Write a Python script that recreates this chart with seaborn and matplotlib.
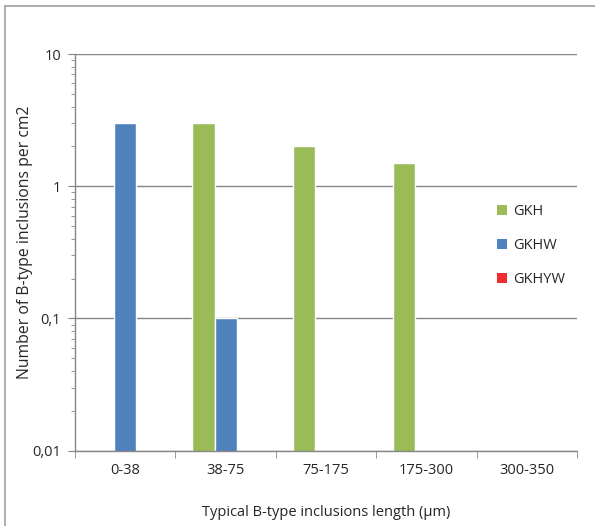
import matplotlib
matplotlib.use("Agg")
import matplotlib.pyplot as plt
import matplotlib.ticker as mticker
from matplotlib.patches import Patch
from matplotlib.lines import Line2D
import seaborn as sns
import pandas as pd

categories = ["0-38", "38-75", "75-175", "175-300", "300-350"]
series = ["GKH", "GKHW", "GKHYW"]
gkh = [0, 3, 2, 1.5, 0]
gkhw = [3, 0.1, 0, 0, 0]
gkhyw = [0, 0, 0, 0, 0]
colors = ["#9BBB59", "#4F81BD", "#EE2E2E"]
ytick_vals = [0.01, 0.1, 1, 10]
ytick_labels = ["0,01", "0,1", "1", "10"]

rows = []
for name, vals in zip(series, [gkh, gkhw, gkhyw]):
    for c, v in zip(categories, vals):
        rows.append({"cat": c, "series": name, "val": v})
df = pd.DataFrame(rows)

sns.set_style("white")
plt.rcParams["font.family"] = ["Open Sans", "DejaVu Sans"]

fig = plt.figure(figsize=(5.95, 5.26), dpi=100)
ax = fig.add_axes([75/595, 1-450.7/526, (577-75)/595, (450.7-54)/526])

sns.barplot(data=df, x="cat", y="val", hue="series", order=categories,
            hue_order=series, palette=colors, width=0.66, ax=ax,
            saturation=1, legend=False, errorbar=None)
ax.set_yscale("log")
ax.set_ylim(0.01, 10)
ax.set_xlim(-0.5, 4.5)

ax.set_yticks(ytick_vals)
ax.set_yticklabels(ytick_labels)
ax.yaxis.set_minor_locator(mticker.LogLocator(base=10, subs=range(2, 10), numticks=20))
ax.yaxis.set_minor_formatter(mticker.NullFormatter())
ax.tick_params(axis="y", which="major", length=5, color="#868686", labelsize=10.5, pad=5, left=True)
ax.tick_params(axis="y", which="minor", length=3, color="#868686", left=True)

ax.set_xticks(range(len(categories)))
ax.set_xticklabels(categories)
ax.set_xticks([i - 0.5 for i in range(len(categories) + 1)], minor=True)
ax.tick_params(axis="x", which="major", length=0, labelsize=10.5, pad=9)
ax.tick_params(axis="x", which="minor", length=5, color="#868686", bottom=True)

ax.grid(axis="y", which="major", color="#868686", linewidth=1)
ax.set_axisbelow(True)
for s in ["top", "right"]:
    ax.spines[s].set_visible(False)
for s in ["left", "bottom"]:
    ax.spines[s].set_color("#868686")
    ax.spines[s].set_linewidth(1)

ax.set_xlabel("Typical B-type inclusions length (µm)", fontsize=10.5)
ax.set_ylabel("Number of B-type inclusions per cm2", fontsize=11.3)
ax.xaxis.set_label_coords(0.5, (450.7 - 513) / 396.7, transform=ax.transAxes)
ax.xaxis.label.set_va("center")
ax.yaxis.set_label_coords((25 - 75) / 502, (450.7 - 242) / 396.7, transform=ax.transAxes)
ax.yaxis.label.set_va("center")

handles = [Patch(facecolor=c, edgecolor="none") for c in colors]
fig.legend(handles, series, loc="upper left", bbox_to_anchor=(484/595, 1-191/526),
           frameon=False, fontsize=10.5, handlelength=0.7, handleheight=0.7,
           handletextpad=0.4, labelspacing=1.3)

fig.add_artist(Line2D([5/595, 5/595], [0, 1-6/526], transform=fig.transFigure,
                      color="#A0A0A0", linewidth=1.2))
fig.add_artist(Line2D([5/595, 1], [1-6/526, 1-6/526], transform=fig.transFigure,
                      color="#A0A0A0", linewidth=1.2))

fig.savefig("out.png", dpi=100)
